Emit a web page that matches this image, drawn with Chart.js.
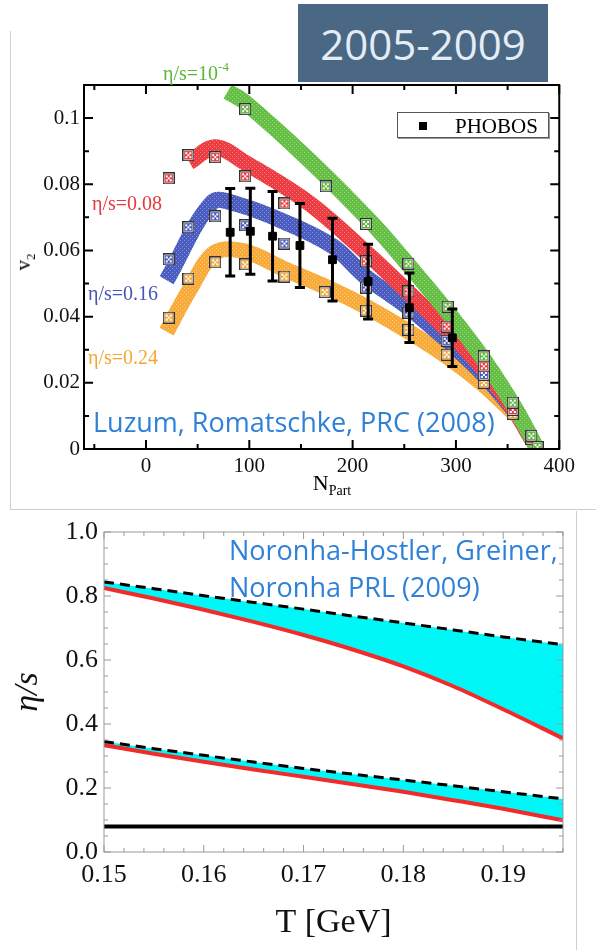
<!DOCTYPE html>
<html>
<head>
<meta charset="utf-8">
<script src="https://cdn.jsdelivr.net/npm/chart.js@4.4.1/dist/chart.umd.min.js"></script>
<style>
  body { margin: 0; width: 596px; height: 950px; position: relative; background: #fff; overflow: hidden; font-family: 'Liberation Serif', serif; }
  .abs { position: absolute; white-space: nowrap; line-height: 1; }
  .mid { transform: translateY(-50%); }
  #topWrap { position: absolute; left: 10px; top: 30px; width: 570px; height: 479px; }
  #botWrap { position: absolute; left: 0; top: 510px; width: 577px; height: 440px; }
  .line { position: absolute; background: #cfcfcf; }
  #years { left: 298px; top: 4px; width: 250px; height: 78px; background: #4a6784; color: #e4ecf6;
           font: 42px 'Open Sans', sans-serif; display: flex; align-items: center; justify-content: center; }
  .ref { font-family: 'Open Sans', sans-serif; color: #2f80d8; font-size: 27px; }
  .lab { font-size: 20px; }
  sup { font-size: 13px; vertical-align: 9px; }
  #legend { left: 397px; top: 112px; width: 150px; height: 24px; border: 1px solid #555; box-shadow: 1px 1px 0 #999; background: #fff; }
</style>
</head>
<body>
<div class="line" style="left:10px;top:31px;width:1px;height:478px"></div>
<div class="line" style="left:10px;top:509px;width:586px;height:1px"></div>
<div class="line" style="left:576px;top:511px;width:1px;height:439px"></div>

<div id="topWrap"><canvas id="topChart"></canvas></div>
<div id="botWrap"><canvas id="botChart"></canvas></div>

<div id="years" class="abs">2005-2009</div>

<div class="abs mid lab" style="left:163px;top:71px;color:#5cb536">η/s=10<sup>-4</sup></div>
<div class="abs mid lab" style="left:92px;top:203px;color:#e8383d">η/s=0.08</div>
<div class="abs mid lab" style="left:88px;top:293px;color:#4656b8">η/s=0.16</div>
<div class="abs mid lab" style="left:88px;top:357px;color:#f5a630">η/s=0.24</div>

<div id="legend" class="abs">
  <div class="abs" style="left:21px;top:9px;width:8px;height:8px;background:#000"></div>
  <div class="abs" style="left:57px;top:3px;font-size:21px">PHOBOS</div>
</div>

<div class="abs mid ref" style="left:93px;top:421px">Luzum, Romatschke, PRC (2008)</div>
<div class="abs mid ref" style="left:229px;top:549px">Noronha-Hostler, Greiner,</div>
<div class="abs mid ref" style="left:229px;top:586px">Noronha PRL (2009)</div>

<div class="abs" style="left:25px;top:262px;font-size:21px;transform:translate(-50%,-50%) rotate(-90deg)">v<sub style="font-size:13px">2</sub></div>
<div class="abs" style="left:332px;top:485px;font-size:22px;transform:translate(-50%,-50%)">N<sub style="font-size:14px">Part</sub></div>

<script>
// ---- top panel: v2 vs N_Part (Luzum, Romatschke) ----
const xTicksTop = [0, 100, 200, 300, 400]
const yTicksTop = [0, 0.02, 0.04, 0.06, 0.08, 0.1]

// band centre lines for each eta/s
const bandGreenN = [79, 95, 157, 218, 253, 293, 327, 358, 377]
const bandGreenV = [0.108, 0.105, 0.0876, 0.0685, 0.056, 0.041, 0.027, 0.012, 0.001]
const bandRedN = [42, 67, 95, 157, 213, 254, 293, 327, 358, 373]
const bandRedV = [0.0867, 0.0912, 0.0867, 0.0745, 0.0594, 0.0473, 0.0355, 0.024, 0.011, 0.003]
const bandBlueN = [20, 64, 88, 135, 181, 213, 254, 293, 327, 358]
const bandBlueV = [0.051, 0.0745, 0.074, 0.0685, 0.0612, 0.052, 0.0427, 0.0324, 0.0224, 0.011]
const bandOrangeN = [20, 42, 67, 96, 135, 181, 213, 254, 293, 327, 358]
const bandOrangeV = [0.0355, 0.048, 0.0594, 0.0597, 0.0542, 0.048, 0.043, 0.0355, 0.0276, 0.0194, 0.0103]

// model points (squares)
const ptsGreenN = [96, 174, 213, 254, 292, 327, 355, 373, 379]
const ptsGreenV = [0.1027, 0.0794, 0.068, 0.056, 0.043, 0.028, 0.014, 0.004, 0.0006]
const ptsRedN = [22, 41, 67, 96, 134, 213, 254, 291, 327, 355, 373]
const ptsRedV = [0.0818, 0.0888, 0.0882, 0.0824, 0.0742, 0.0567, 0.0476, 0.037, 0.025, 0.0118, 0.003]
const ptsBlueN = [22, 41, 67, 96, 134, 213, 254, 291, 327]
const ptsBlueV = [0.0573, 0.067, 0.0703, 0.0676, 0.0621, 0.0488, 0.0412, 0.0327, 0.0224]
const ptsOrangeN = [22, 41, 67, 96, 134, 173, 213, 254, 291, 327, 355]
const ptsOrangeV = [0.0397, 0.0515, 0.0564, 0.0558, 0.0521, 0.0474, 0.0418, 0.036, 0.0285, 0.02, 0.0106]

// PHOBOS data
const phobosN = [81.5, 101, 122.5, 149, 180.5, 215, 255, 296.5]
const phobosV = [0.0655, 0.0658, 0.0643, 0.0615, 0.0572, 0.0506, 0.0427, 0.0336]
const phobosErr = [0.0132, 0.013, 0.0135, 0.0127, 0.0125, 0.0113, 0.0105, 0.0087]

// ---- bottom panel: eta/s vs T (Noronha-Hostler, Greiner, Noronha) ----
const xTicksBot = [0.15, 0.16, 0.17, 0.18, 0.19]
const yTicksBot = [0, 0.2, 0.4, 0.6, 0.8, 1.0]
const tempT = [0.15, 0.155, 0.16, 0.165, 0.17, 0.175, 0.18, 0.185, 0.19, 0.196]
const upperDashed = [0.844, 0.823, 0.801, 0.780, 0.759, 0.737, 0.716, 0.694, 0.672, 0.648]
const upperRed = [0.825, 0.792, 0.757, 0.719, 0.678, 0.632, 0.580, 0.518, 0.446, 0.355]
const lowerDashed = [0.345, 0.323, 0.302, 0.281, 0.261, 0.243, 0.225, 0.207, 0.188, 0.166]
const lowerRed = [0.334, 0.307, 0.282, 0.258, 0.235, 0.212, 0.188, 0.162, 0.135, 0.099]
const kssT = [0.15, 0.196]
const kssV = [0.08, 0.08]

const pts = (xs, ys) => xs.map((x, i) => ({x: x, y: ys[i]}))

const topCtx = document.getElementById('topChart').getContext('2d')

function hatch(color) {
    const c = document.createElement('canvas')
    c.width = c.height = 4
    const g = c.getContext('2d')
    g.fillStyle = color
    g.fillRect(0, 0, 4, 4)
    g.fillStyle = 'rgba(255,255,255,0.35)'
    g.fillRect(0, 0, 1, 1)
    g.fillRect(2, 2, 1, 1)
    return topCtx.createPattern(c, 'repeat')
}

function marker(color) {
    const c = document.createElement('canvas')
    c.width = c.height = 12
    const g = c.getContext('2d')
    g.fillStyle = '#fff'
    g.fillRect(0, 0, 12, 12)
    g.fillStyle = color
    g.fillRect(2, 2, 8, 8)
    g.fillStyle = '#fff'
    ;[[3, 3], [7, 3], [5, 5], [3, 7], [7, 7]].forEach(p => g.fillRect(p[0], p[1], 2, 2))
    g.strokeStyle = '#333'
    g.lineWidth = 1.3
    g.strokeRect(0.65, 0.65, 10.7, 10.7)
    return c
}

// ticks on all four sides, pointing inward
const frame = {
    id: 'frame',
    afterDatasetsDraw(chart, args, o) {
        const {ctx, chartArea: a, scales: {x, y}} = chart
        ctx.save()
        ctx.strokeStyle = o.color
        ctx.lineWidth = o.width
        ctx.beginPath()
        for (let k = 0; ; k++) {
            const v = +(o.xFrom + k * o.xStep).toFixed(6)
            if (v > x.max + 1e-9) break
            if (v < x.min - 1e-9) continue
            const len = k % o.xEvery === 0 ? o.major : o.minor
            const p = x.getPixelForValue(v)
            ctx.moveTo(p, a.bottom); ctx.lineTo(p, a.bottom - len)
            ctx.moveTo(p, a.top); ctx.lineTo(p, a.top + len)
        }
        for (let k = 0; ; k++) {
            const v = +(o.yFrom + k * o.yStep).toFixed(6)
            if (v > y.max + 1e-9) break
            if (v < y.min - 1e-9) continue
            const len = k % o.yEvery === 0 ? o.major : o.minor
            const p = y.getPixelForValue(v)
            ctx.moveTo(a.left, p); ctx.lineTo(a.left + len, p)
            ctx.moveTo(a.right, p); ctx.lineTo(a.right - len, p)
        }
        ctx.stroke()
        ctx.strokeRect(a.left, a.top, a.width, a.height)
        ctx.restore()
    }
}

const errorBars = {
    id: 'errorBars',
    afterDatasetsDraw(chart) {
        const {ctx, scales: {x, y}} = chart
        chart.data.datasets.forEach(ds => {
            if (!ds.errors) return
            ctx.save()
            ctx.strokeStyle = '#000'
            ctx.lineWidth = 3
            ctx.beginPath()
            ds.data.forEach((p, j) => {
                const px = x.getPixelForValue(p.x)
                const lo = y.getPixelForValue(p.y - ds.errors[j])
                const hi = y.getPixelForValue(p.y + ds.errors[j])
                ctx.moveTo(px, lo); ctx.lineTo(px, hi)
                ctx.moveTo(px - 5, lo); ctx.lineTo(px + 5, lo)
                ctx.moveTo(px - 5, hi); ctx.lineTo(px + 5, hi)
            })
            ctx.stroke()
            ctx.restore()
        })
    }
}

const band = (label, n, v, color) => ({
    label: label, data: pts(n, v), showLine: true, pointRadius: 0,
    borderColor: hatch(color), borderWidth: 16, tension: 0.35, borderCapStyle: 'butt', order: 10
})
const squares = (label, n, v, color) => ({
    label: label, data: pts(n, v), showLine: false, pointStyle: marker(color), pointRadius: 6, order: 5
})

const serif = 'Liberation Serif'

new Chart(topCtx, {
    type: 'scatter',
    data: {
        datasets: [
            {label: 'PHOBOS', data: pts(phobosN, phobosV), errors: phobosErr, pointStyle: 'rect',
             pointRadius: 5.5, backgroundColor: '#000', borderColor: '#000', order: 1},
            squares('1e-4 calc', ptsGreenN, ptsGreenV, '#5cb536'),
            squares('0.08 calc', ptsRedN, ptsRedV, '#e8383d'),
            squares('0.16 calc', ptsBlueN, ptsBlueV, '#4656b8'),
            squares('0.24 calc', ptsOrangeN, ptsOrangeV, '#f5a630'),
            band('eta/s=1e-4', bandGreenN, bandGreenV, '#66bf45'),
            band('eta/s=0.08', bandRedN, bandRedV, '#ec3b41'),
            band('eta/s=0.16', bandBlueN, bandBlueV, '#4a5cc0'),
            band('eta/s=0.24', bandOrangeN, bandOrangeV, '#f8ab38')
        ]
    },
    options: {
        responsive: true, maintainAspectRatio: false, animation: false,
        layout: {autoPadding: false, padding: {top: 55, right: 2, left: 0, bottom: 0}},
        plugins: {
            legend: {display: false}, tooltip: {enabled: false},
            frame: {color: '#000', width: 2, major: 9, minor: 5,
                    xFrom: -100, xStep: 50, xEvery: 2, yFrom: 0, yStep: 0.01, yEvery: 2}
        },
        scales: {
            x: {
                type: 'linear', min: -60, max: 400,
                grid: {display: false, drawTicks: false}, border: {display: false},
                afterBuildTicks: s => { s.ticks = xTicksTop.map(v => ({value: v})) },
                afterFit: s => { s.height = 60 },
                ticks: {color: '#111', padding: 5, maxRotation: 0, font: {family: serif, size: 21}}
            },
            y: {
                type: 'linear', min: 0, max: 0.11,
                grid: {display: false, drawTicks: false}, border: {display: false},
                afterBuildTicks: s => { s.ticks = yTicksTop.map(v => ({value: v})) },
                afterFit: s => { s.width = 74 },
                ticks: {color: '#111', padding: 4, font: {family: serif, size: 21},
                        callback: v => String(+v.toFixed(2))}
            }
        }
    },
    plugins: [frame, errorBars]
})

const cyan = '#00f7f7'
new Chart(document.getElementById('botChart'), {
    type: 'scatter',
    data: {
        datasets: [
            {label: 'upper bound', data: pts(tempT, upperDashed), showLine: true, pointRadius: 0,
             borderColor: '#000', borderWidth: 3, borderDash: [10, 6], order: 1},
            {label: 'upper', data: pts(tempT, upperRed), showLine: true, pointRadius: 0, cubicInterpolationMode: 'monotone',
             borderColor: '#f22a2a', borderWidth: 4, fill: 0, backgroundColor: cyan, order: 2},
            {label: 'lower bound', data: pts(tempT, lowerDashed), showLine: true, pointRadius: 0,
             borderColor: '#000', borderWidth: 3, borderDash: [10, 6], order: 1},
            {label: 'lower', data: pts(tempT, lowerRed), showLine: true, pointRadius: 0, cubicInterpolationMode: 'monotone',
             borderColor: '#f22a2a', borderWidth: 4, fill: 2, backgroundColor: cyan, order: 2},
            {label: '1/4pi', data: pts(kssT, kssV), showLine: true, pointRadius: 0,
             borderColor: '#000', borderWidth: 4, order: 3}
        ]
    },
    options: {
        responsive: true, maintainAspectRatio: false, animation: false,
        layout: {autoPadding: false, padding: {top: 22, right: 14, left: 0, bottom: 0}},
        plugins: {
            legend: {display: false}, tooltip: {enabled: false},
            frame: {color: '#999', width: 1, major: 7, minor: 4,
                    xFrom: 0.15, xStep: 0.002, xEvery: 5, yFrom: 0, yStep: 0.05, yEvery: 4}
        },
        scales: {
            x: {
                type: 'linear', min: 0.15, max: 0.196,
                grid: {display: false, drawTicks: false}, border: {display: false},
                afterBuildTicks: s => { s.ticks = xTicksBot.map(v => ({value: v})) },
                afterFit: s => { s.height = 98 },
                ticks: {color: '#111', padding: 8, maxRotation: 0, font: {family: serif, size: 26},
                        callback: v => v.toFixed(2)},
                title: {display: true, text: 'T [GeV]', color: '#111', padding: {bottom: 7},
                        font: {family: serif, size: 34}}
            },
            y: {
                type: 'linear', min: 0, max: 1,
                grid: {display: false, drawTicks: false}, border: {display: false},
                afterBuildTicks: s => { s.ticks = yTicksBot.map(v => ({value: v})) },
                afterFit: s => { s.width = 104 },
                ticks: {color: '#111', padding: 6, font: {family: serif, size: 26},
                        callback: v => v.toFixed(1)},
                title: {display: true, text: 'η/s', color: '#111', padding: {top: 8},
                        font: {family: serif, size: 34, style: 'italic'}}
            }
        }
    },
    plugins: [frame]
})
</script>
</body>
</html>
